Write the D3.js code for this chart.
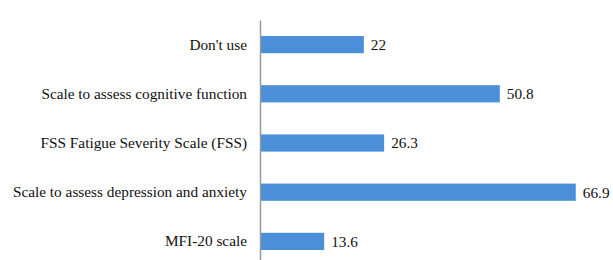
<!DOCTYPE html>
<html>
<head>
<meta charset="utf-8">
<script src="https://cdn.jsdelivr.net/npm/d3@7"></script>
<style>
  body { margin: 0; background: #fff; }
  text { font-family: 'Liberation Serif', 'Times New Roman', serif; }
</style>
</head>
<body>
<svg width="613" height="260"></svg>
<script>
const categories = [
  "Don't use",
  'Scale to assess cognitive function',
  'FSS Fatigue Severity Scale (FSS)',
  'Scale to assess depression and anxiety',
  'MFI-20 scale'
]
const values = [22, 50.8, 26.3, 66.9, 13.6]

const svg = d3.select('svg')
const margin = {top: 20, right: 0, bottom: 0, left: 260}
const data = categories.map((c, i) => ({label: c, value: values[i]}))

const x = d3.scaleLinear().domain([0, 100]).range([margin.left, margin.left + 472])
const y = d3.scaleBand()
  .domain(categories)
  .range([margin.top, margin.top + 246])
  .paddingInner(0.65)
  .paddingOuter(0.325)

svg.selectAll('rect.bar')
  .data(data)
  .enter().append('rect')
  .attr('class', 'bar')
  .attr('x', x(0))
  .attr('y', d => y(d.label))
  .attr('width', d => x(d.value) - x(0))
  .attr('height', y.bandwidth())
  .attr('fill', '#4a8fd8')

svg.selectAll('text.value')
  .data(data)
  .enter().append('text')
  .attr('class', 'value')
  .attr('x', d => x(d.value) + 7)
  .attr('y', d => y(d.label) + y.bandwidth() / 2)
  .attr('dy', '0.35em')
  .attr('font-size', 15.3)
  .attr('fill', '#111')
  .text(d => d.value)

const axis = svg.append('g')
  .attr('transform', 'translate(' + x(0) + ',0)')
  .call(d3.axisLeft(y).tickSize(0).tickPadding(13))
axis.select('.domain').attr('stroke', '#999').attr('stroke-width', 1.5)
axis.selectAll('text').attr('font-size', 15.3).attr('fill', '#111')
</script>
</body>
</html>
